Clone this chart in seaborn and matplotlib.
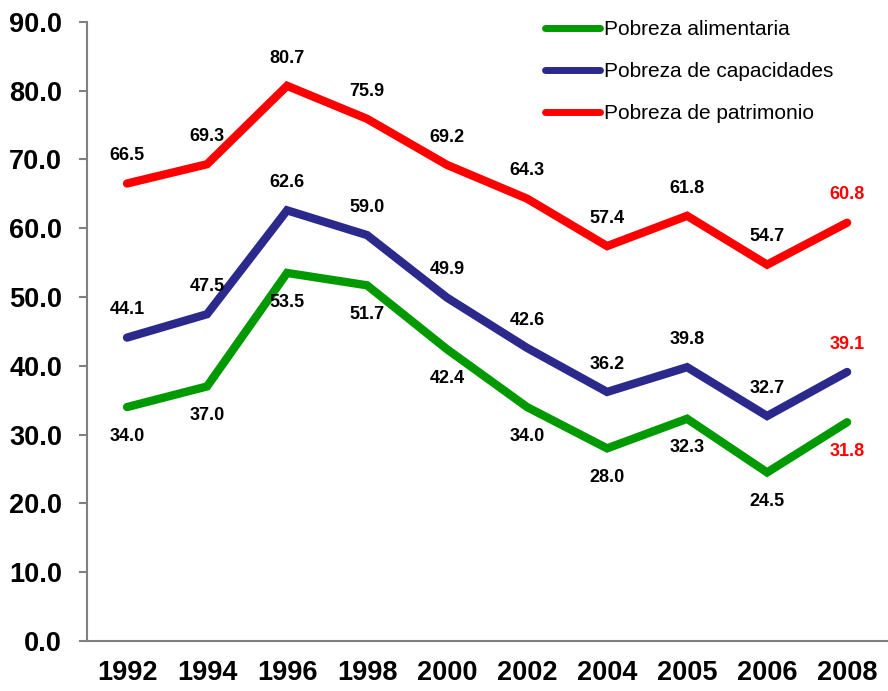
import numpy as np
import pandas as pd
import matplotlib
matplotlib.use("Agg")
import matplotlib.pyplot as plt
import seaborn as sns

# ── Datos ────────────────────────────────────────────────────────────────────
years = ["1992", "1994", "1996", "1998", "2000", "2002", "2004", "2005", "2006", "2008"]
alimentaria = [34.0, 37.0, 53.5, 51.7, 42.4, 34.0, 28.0, 32.3, 24.5, 31.8]
capacidades = [44.1, 47.5, 62.6, 59.0, 49.9, 42.6, 36.2, 39.8, 32.7, 39.1]
patrimonio = [66.5, 69.3, 80.7, 75.9, 69.2, 64.3, 57.4, 61.8, 54.7, 60.8]

series_names = ["Pobreza alimentaria", "Pobreza de capacidades", "Pobreza de patrimonio"]
series_vals = [alimentaria, capacidades, patrimonio]
colors = ["#009900", "#2B2A8C", "#FF0000"]
label_off = [-21, 20, 20]  # desplazamiento de etiquetas (pt): negativo = debajo

sns.set_theme(style="white")
plt.rcParams["font.family"] = ["Liberation Sans", "DejaVu Sans"]
plt.rcParams["text.color"] = "black"

df = pd.DataFrame({
    "pos": np.tile(np.arange(len(years)), 3),
    "valor": np.concatenate(series_vals),
    "serie": np.repeat(series_names, len(years)),
})

fig = plt.figure(figsize=(8.88, 6.91), dpi=100)
ax = fig.add_axes([0.098, 0.0724, 0.901, 0.896])

sns.lineplot(data=df, x="pos", y="valor", hue="serie", hue_order=series_names,
             palette=colors, linewidth=6, ax=ax, solid_capstyle="round",
             solid_joinstyle="miter")

# etiquetas de datos
for vals, off in zip(series_vals, label_off):
    for i, v in enumerate(vals):
        col = "#FF0000" if i == len(years) - 1 else "black"
        ax.annotate(f"{v:.1f}", (i, v), xytext=(0, off), textcoords="offset points",
                    ha="center", va="center", fontsize=13, fontweight="bold", color=col)

ax.set_xlim(-0.5, len(years) - 0.5)
ax.set_ylim(0, 90)
ax.set_yticks(np.arange(0, 91, 10))
ax.set_yticklabels([f"{t:.1f}" for t in np.arange(0, 91, 10)], fontsize=19.5, fontweight="bold")
ax.set_xticks(np.arange(len(years)))
ax.set_xticklabels(years, fontsize=19.5, fontweight="bold")
ax.set_xticks(np.arange(-0.5, len(years)), minor=True)
ax.tick_params(axis="x", which="major", length=0, pad=14, labelcolor="black")
ax.tick_params(axis="x", which="minor", length=5, color="#808080", width=1.5, direction="out")
ax.tick_params(axis="y", length=6, color="#808080", width=1.5, direction="out", left=True,
               pad=12, labelcolor="black")
ax.set_xlabel("")
ax.set_ylabel("")

for s in ["top", "right"]:
    ax.spines[s].set_visible(False)
for s in ["left", "bottom"]:
    ax.spines[s].set_color("#808080")
    ax.spines[s].set_linewidth(1.5)

leg = ax.legend(loc="upper left", bbox_to_anchor=(545 / 888, 1 - 20 / 691),
                bbox_transform=fig.transFigure, frameon=False, fontsize=15,
                borderpad=0, borderaxespad=0,
                handlelength=2.65, handletextpad=0.2, labelspacing=1.1)
for line in leg.get_lines():
    line.set_linewidth(5)
    line.set_solid_capstyle("round")

fig.savefig("out.png", dpi=100)
